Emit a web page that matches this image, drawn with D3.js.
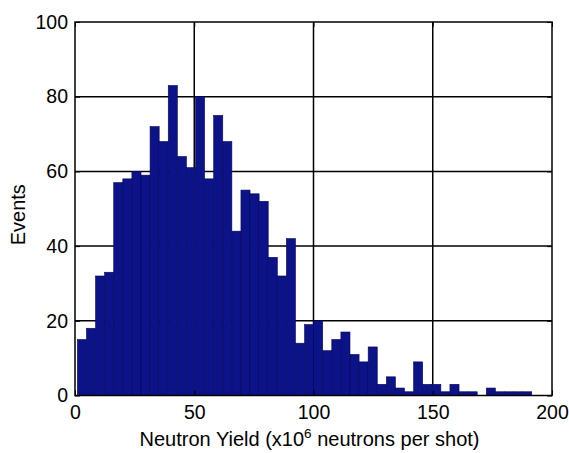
<!DOCTYPE html>
<html>
<head>
<meta charset="utf-8">
<script src="https://cdn.jsdelivr.net/npm/d3@7"></script>
<style>
  body { margin: 0; background: #fff; }
  text { font-family: "Liberation Sans", Arial, sans-serif; fill: #000; }
</style>
</head>
<body>
<div id="chart-container"></div>
<script>
// histogram: 50 bins, first edge and bin width in neutron-yield units
const binStart = 1.0;
const binWidth = 3.81;
const counts = [
  15, 18, 32, 33, 57, 58, 60, 59, 72, 68,
  83, 64, 61, 80, 58, 75, 68, 44, 55, 54,
  52, 37, 32, 42, 14, 19, 20, 12, 15, 17,
  11, 9, 13, 3, 5, 2, 1, 9, 3, 3,
  1, 3, 1, 1, 0, 2, 1, 1, 1, 1,
];
const xTicks = [0, 50, 100, 150, 200];
const yTicks = [0, 20, 40, 60, 80, 100];

const bins = counts.map((c, i) => ({
  x0: binStart + i * binWidth,
  x1: binStart + (i + 1) * binWidth,
  count: c,
}));

const W = 569, H = 453;
const margin = { top: 22, right: 17, bottom: 57.5, left: 75 };
const width = W - margin.left - margin.right;
const height = H - margin.top - margin.bottom;

const svg = d3
  .select("#chart-container")
  .append("svg")
  .attr("width", W)
  .attr("height", H)
  .append("g")
  .attr("transform", `translate(${margin.left},${margin.top})`);

const xScale = d3.scaleLinear().domain([0, 200]).range([0, width]);
const yScale = d3.scaleLinear().domain([0, 100]).range([height, 0]);

// grid (behind bars)
const grid = svg.append("g").attr("class", "grid");
grid
  .selectAll(".vgrid")
  .data(xTicks.slice(1, -1))
  .enter()
  .append("line")
  .attr("x1", (d) => xScale(d))
  .attr("x2", (d) => xScale(d))
  .attr("y1", 0)
  .attr("y2", height)
  .attr("stroke", "#000")
  .attr("stroke-width", 1.5);
grid
  .selectAll(".hgrid")
  .data(yTicks.slice(1, -1))
  .enter()
  .append("line")
  .attr("x1", 0)
  .attr("x2", width)
  .attr("y1", (d) => yScale(d))
  .attr("y2", (d) => yScale(d))
  .attr("stroke", "#000")
  .attr("stroke-width", 1.5);

// bars
svg
  .selectAll(".bar")
  .data(bins)
  .enter()
  .append("rect")
  .attr("class", "bar")
  .attr("x", (d) => xScale(d.x0))
  .attr("width", (d) => xScale(d.x1) - xScale(d.x0))
  .attr("y", (d) => yScale(d.count))
  .attr("height", (d) => yScale(0) - yScale(d.count))
  .attr("fill", "#0c1288")
  .attr("stroke", "#070a55")
  .attr("stroke-width", 0.6);

// axes with inward ticks
const xAxis = d3.axisBottom(xScale).tickValues(xTicks).tickSize(-5).tickPadding(10);
const yAxis = d3.axisLeft(yScale).tickValues(yTicks).tickSize(-5).tickPadding(7);

svg
  .append("g")
  .attr("transform", `translate(0,${height})`)
  .call(xAxis);
svg.append("g").call(yAxis);

svg
  .append("g")
  .call(d3.axisTop(xScale).tickValues(xTicks).tickSize(-5).tickFormat(""));
svg
  .append("g")
  .attr("transform", `translate(${width},0)`)
  .call(d3.axisRight(yScale).tickValues(yTicks).tickSize(-5).tickFormat(""));

svg.selectAll(".domain").remove();
svg.selectAll(".tick line").attr("stroke", "#000").attr("stroke-width", 1);
svg.selectAll(".tick text").style("font-size", "19.5px").style("font-family", '"Liberation Sans", Arial, sans-serif');

// axes box
svg
  .append("rect")
  .attr("width", width)
  .attr("height", height)
  .attr("fill", "none")
  .attr("stroke", "#000")
  .attr("stroke-width", 1.5);

// labels
svg
  .append("text")
  .attr("transform", "rotate(-90)")
  .attr("x", -height / 2 - 6)
  .attr("y", -50)
  .style("text-anchor", "middle")
  .style("font-size", "20px")
  .text("Events");

const xl = svg
  .append("text")
  .attr("x", width / 2 - 4)
  .attr("y", height + 50)
  .style("text-anchor", "middle")
  .style("font-size", "20px");
xl.append("tspan").text("Neutron Yield (x10");
xl.append("tspan").attr("dy", -8).style("font-size", "13.5px").text("6");
xl.append("tspan").attr("dy", 8).text(" neutrons per shot)");
</script>
</body>
</html>
